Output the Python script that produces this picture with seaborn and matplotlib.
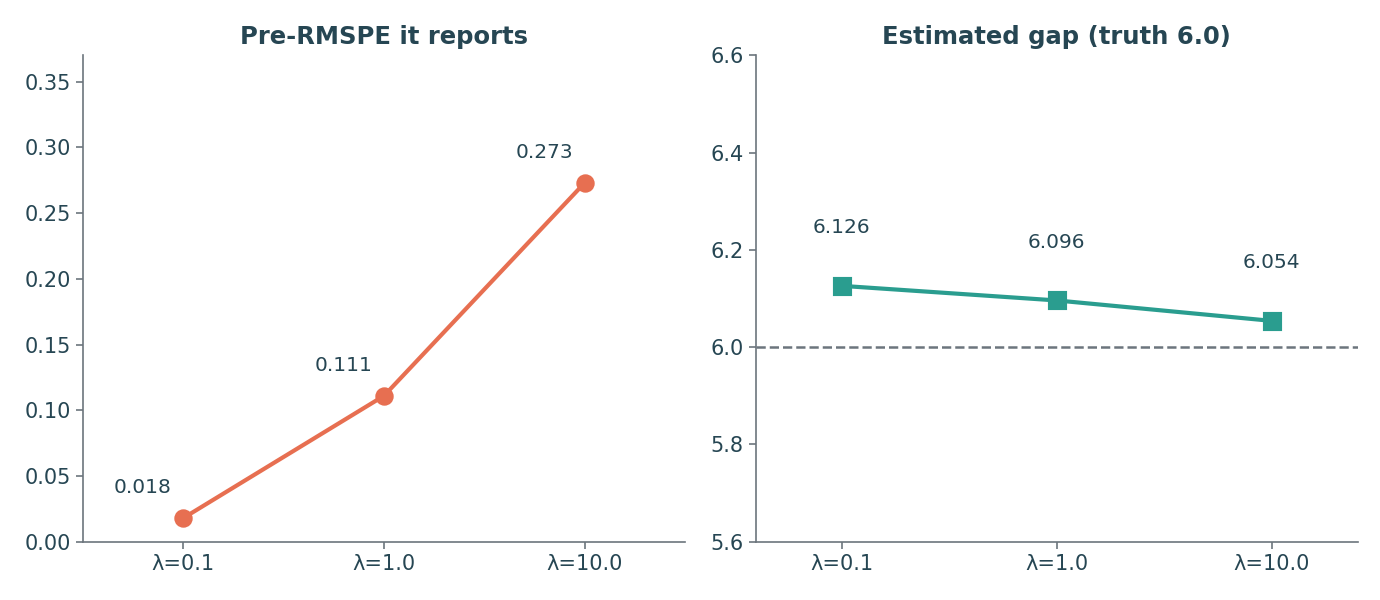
import seaborn as sns
import matplotlib.pyplot as plt
import pandas as pd

# lambda settings and the values
lambdas = ["λ=0.1", "λ=1.0", "λ=10.0"]
pre_rmspe = [0.018, 0.111, 0.273]
est_gap = [6.126, 6.096, 6.054]
truth = 6.0

ink = "#264653"
spine = "#6C757D"
orange = "#E76F51"
teal = "#2A9D8F"

sns.set_theme(style="ticks")
plt.rcParams["font.family"] = ["DejaVu Sans"]
plt.rcParams.update({
    "axes.edgecolor": spine, "xtick.color": spine, "ytick.color": spine,
    "xtick.labelcolor": ink, "ytick.labelcolor": ink, "text.color": ink,
})

df = pd.DataFrame({"lam": lambdas, "rmspe": pre_rmspe, "gap": est_gap})

fig, (ax1, ax2) = plt.subplots(1, 2, figsize=(13.8, 6), dpi=100)
fig.subplots_adjust(left=0.06, right=0.984, bottom=0.097, top=0.908, wspace=0.117)

sns.pointplot(data=df, x="lam", y="rmspe", ax=ax1, color=orange, markers="o",
              linewidth=3, markersize=11)
for i, v in enumerate(pre_rmspe):
    ax1.text(i - 0.2, v + 0.023, f"{v:.3f}", ha="center", va="center", fontsize=14.5, color=ink)
ax1.set_ylim(0, 0.37)
ax1.set_yticks([0, 0.05, 0.10, 0.15, 0.20, 0.25, 0.30, 0.35])
ax1.set_xlim(-0.5, 2.5)
ax1.set_title("Pre-RMSPE it reports", fontsize=17.5, fontweight="bold", color=ink, pad=8)

sns.pointplot(data=df, x="lam", y="gap", ax=ax2, color=teal, markers="s",
              linewidth=3, markersize=11)
ax2.axhline(truth, color="#6C757D", linestyle="--", linewidth=1.8, zorder=0)
for i, v in enumerate(est_gap):
    ax2.text(i, v + 0.12, f"{v:.3f}", ha="center", va="center", fontsize=14.5, color=ink)
ax2.set_ylim(5.6, 6.6)
ax2.set_yticks([5.6, 5.8, 6.0, 6.2, 6.4, 6.6])
ax2.set_xlim(-0.4, 2.4)
ax2.set_title("Estimated gap (truth 6.0)", fontsize=17.5, fontweight="bold", color=ink, pad=8)

for ax in (ax1, ax2):
    ax.set_xlabel("")
    ax.set_ylabel("")
    ax.tick_params(labelsize=15, length=5, width=1.2)
    for s in ("left", "bottom"):
        ax.spines[s].set_linewidth(1.2)
    sns.despine(ax=ax)

fig.savefig("out.png")
